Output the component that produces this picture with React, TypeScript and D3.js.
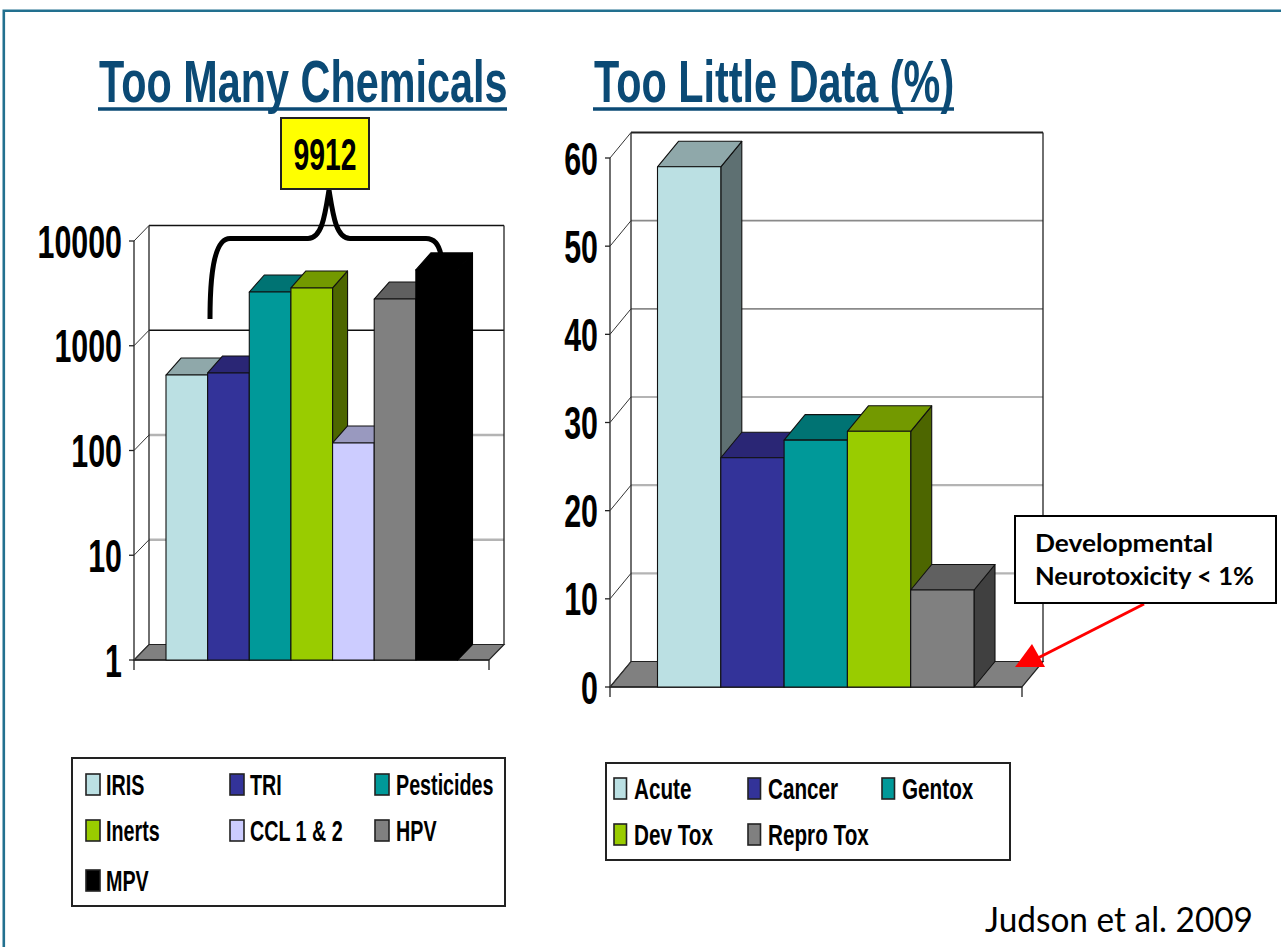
import React from "react";
import * as d3 from "d3";

// Left panel: number of chemicals per inventory (log axis)
const chemicalCategories = ["IRIS", "TRI", "Pesticides", "Inerts", "CCL 1 & 2", "HPV", "MPV"];
const chemicalCounts = [525, 550, 3260, 3560, 118, 2790, 5300];
const chemicalTicks = [1, 10, 100, 1000, 10000];
const chemicalTotal = "9912";

// Right panel: share of chemicals with toxicity data (%)
const dataCategories = ["Acute", "Cancer", "Gentox", "Dev Tox", "Repro Tox"];
const dataPercents = [59, 26, 28, 29, 11];
const dataTicks = [0, 10, 20, 30, 40, 50, 60];

// Front, top and side shades of each bar colour
const shades: Record<string, [string, string, string]> = {
  IRIS: ["#bbe0e3", "#8fa8aa", "#5e7072"],
  TRI: ["#333399", "#2a2675", "#1a1a4d"],
  Pesticides: ["#009999", "#007373", "#004d4d"],
  Inerts: ["#99cc00", "#739900", "#4d6600"],
  "CCL 1 & 2": ["#ccccff", "#9999bf", "#666680"],
  HPV: ["#808080", "#606060", "#404040"],
  MPV: ["#000000", "#000000", "#000000"],
  Acute: ["#bbe0e3", "#8fa8aa", "#5e7072"],
  Cancer: ["#333399", "#2a2675", "#1a1a4d"],
  Gentox: ["#009999", "#007373", "#004d4d"],
  "Dev Tox": ["#99cc00", "#739900", "#4d6600"],
  "Repro Tox": ["#808080", "#606060", "#404040"],
};

const NARROW = "'Liberation Sans', Arial, sans-serif";

// Bold sans text compressed horizontally to a condensed cut
function Narrow(props: {
  x: number; y: number; size: number; sx: number; anchor?: string; fill?: string; children: React.ReactNode;
}) {
  const { x, y, size, sx, anchor = "start", fill = "#000", children } = props;
  return (
    <text
      transform={`translate(${x},${y}) scale(${sx},1)`}
      fontFamily={NARROW}
      fontWeight="bold"
      fontSize={size}
      textAnchor={anchor}
      fill={fill}
    >
      {children}
    </text>
  );
}

type PanelProps = {
  categories: string[];
  values: number[];
  ticks: number[];
  y: (v: number) => number;
  left: number;
  right: number;
  barLeft: number;
  barRight: number;
  dx: number;
  dy: number;
  barDy: number;
  labelX: number;
  labelSize: number;
  labelSx: number;
  gridStyle: (t: number, i: number) => { stroke: string; width: number };
};

// Pseudo-3D column chart: back wall, side wall, floor and extruded bars
function Panel3D(p: PanelProps) {
  const { categories, values, ticks, y, left, right, barLeft, barRight, dx, dy, barDy } = p;
  const x = d3.scaleBand<string>().domain(categories).range([barLeft, barRight]).padding(0);
  const w = x.bandwidth();
  const base = y(ticks[0]);
  const top = y(ticks[ticks.length - 1]);
  const poly = (pts: [number, number][]) => d3.line()(pts) + "Z";
  return (
    <g>
      <path
        d={poly([[left, base], [right, base], [right + dx, base + dy], [left + dx, base + dy]])}
        fill="#808080"
        stroke="#222"
        strokeWidth={1.2}
      />
      {ticks.slice(1).map((t, i) => {
        const g = p.gridStyle(t, i);
        return (
          <line key={t} x1={left + dx} x2={right + dx} y1={y(t) + dy} y2={y(t) + dy} stroke={g.stroke} strokeWidth={g.width} />
        );
      })}
      <line x1={left + dx} x2={left + dx} y1={top + dy} y2={base + dy} stroke="#222" strokeWidth={1.3} />
      <line x1={right + dx} x2={right + dx} y1={top + dy} y2={base + dy} stroke="#222" strokeWidth={1.3} />
      <line x1={left} x2={left} y1={top} y2={base + 10} stroke="#222" strokeWidth={1.3} />
      <line x1={left} x2={right} y1={base} y2={base} stroke="#222" strokeWidth={1.3} />
      <line x1={right} x2={right} y1={base} y2={base + 10} stroke="#222" strokeWidth={1.3} />
      {ticks.map((t) => (
        <g key={t}>
          <line x1={left - 5} x2={left} y1={y(t)} y2={y(t)} stroke="#222" strokeWidth={1.3} />
          <line x1={left} x2={left + dx} y1={y(t)} y2={y(t) + dy} stroke="#333" strokeWidth={1} />
          <Narrow x={p.labelX} y={y(t) + p.labelSize * 0.36} size={p.labelSize} sx={p.labelSx} anchor="end">
            {t}
          </Narrow>
        </g>
      ))}
      {categories.map((c, i) => {
        const x0 = x(c) as number;
        const yt = y(values[i]);
        const [front, topFace, side] = shades[c];
        return (
          <g key={c} stroke={c === "MPV" ? "#000" : "#111"} strokeWidth={1.1} strokeLinejoin="round">
            <path d={poly([[x0 + w, yt], [x0 + w + dx, yt + barDy], [x0 + w + dx, base + dy], [x0 + w, base]])} fill={side} />
            <path d={poly([[x0, yt], [x0 + dx, yt + barDy], [x0 + w + dx, yt + barDy], [x0 + w, yt]])} fill={topFace} />
            <rect x={x0} y={yt} width={w} height={base - yt} fill={front} />
          </g>
        );
      })}
    </g>
  );
}

function Legend(props: {
  box: [number, number, number, number];
  items: string[];
  cols: number[];
  textCols: number[];
  rows: number[];
  swatchW: number;
  swatchH: number;
  size: number;
  sx: number;
}) {
  const { box, items, cols, textCols, rows, swatchW, swatchH, size, sx } = props;
  return (
    <g>
      <rect x={box[0]} y={box[1]} width={box[2] - box[0]} height={box[3] - box[1]} fill="#fff" stroke="#222" strokeWidth={2} />
      {items.map((c, i) => {
        const col = i % cols.length;
        const row = Math.floor(i / cols.length);
        return (
          <g key={c}>
            <rect x={cols[col]} y={rows[row] - swatchH} width={swatchW} height={swatchH} fill={shades[c][0]} stroke="#222" strokeWidth={1.6} />
            <Narrow x={textCols[col]} y={rows[row]} size={size} sx={sx}>
              {c}
            </Narrow>
          </g>
        );
      })}
    </g>
  );
}

export default function App() {
  const yLog = d3.scaleLog().domain([1, 10000]).range([660, 241]);
  const yLin = d3.scaleLinear().domain([0, 60]).range([687, 158]);
  const title = "#0b4a75";
  return (
    <svg
      width={1281}
      height={947}
      viewBox="0 0 1281 947"
      style={{ position: "absolute", left: 0, top: 0, background: "#fff" }}
    >
      <path d="M3.8,947V10.7H1281" fill="none" stroke="#22708f" strokeWidth={2.6} />

      <Narrow x={99} y={102} size={60} sx={0.69} fill={title}>Too Many Chemicals</Narrow>
      <line x1={98} x2={507} y1={109} y2={109} stroke={title} strokeWidth={3.5} />
      <Narrow x={594} y={102} size={60} sx={0.69} fill={title}>Too Little Data (%)</Narrow>
      <line x1={593} x2={954} y1={109} y2={109} stroke={title} strokeWidth={3.5} />

      <Panel3D
        categories={chemicalCategories}
        values={chemicalCounts}
        ticks={chemicalTicks}
        y={yLog}
        left={134}
        right={489}
        barLeft={166}
        barRight={457.5}
        dx={15}
        dy={-15.5}
        barDy={-17}
        labelX={122}
        labelSize={46}
        labelSx={0.66}
        gridStyle={(t) => (t >= 1000 ? { stroke: "#111", width: 1.4 } : { stroke: "#b4b4b4", width: 2.4 })}
      />
      <Panel3D
        categories={dataCategories}
        values={dataPercents}
        ticks={dataTicks}
        y={yLin}
        left={610}
        right={1022}
        barLeft={657.5}
        barRight={974}
        dx={21}
        dy={-25.5}
        barDy={-25.5}
        labelX={598}
        labelSize={46}
        labelSx={0.66}
        gridStyle={(t) =>
          t === 60 ? { stroke: "#222", width: 2 } : t >= 40 ? { stroke: "#8a8a8a", width: 1.8 } : { stroke: "#b4b4b4", width: 2.2 }
        }
      />

      {/* Brace grouping the left-hand inventories under their total */}
      <path
        d="M210,319C210,280 213,238.5 230,238.5H308C322,238.5 325,215 329,190C333,215 336,238.5 350,238.5H426C435,238.5 439,245 441,255"
        fill="none"
        stroke="#000"
        strokeWidth={5}
      />
      <rect x={281} y={118} width={88} height={71} fill="#ffff00" stroke="#222" strokeWidth={2} />
      <Narrow x={325} y={170} size={45} sx={0.63} anchor="middle">{chemicalTotal}</Narrow>

      <Legend
        box={[72, 758, 505, 906]}
        items={chemicalCategories}
        cols={[86, 230, 375]}
        textCols={[106, 250, 396]}
        rows={[795, 841, 891]}
        swatchW={14}
        swatchH={21}
        size={29}
        sx={0.68}
      />
      <Legend
        box={[606, 763, 1010, 860]}
        items={dataCategories}
        cols={[614, 748, 882]}
        textCols={[634, 768, 902]}
        rows={[799, 845]}
        swatchW={12.5}
        swatchH={21}
        size={30}
        sx={0.69}
      />

      {/* Callout for the missing developmental neurotoxicity bar */}
      <line x1={1144} y1={604} x2={1036} y2={659} stroke="#f00" strokeWidth={3} />
      <path d="M1032,644L1015,667H1045Z" fill="#f00" />
      <rect x={1015} y={516} width={261} height={87} fill="#fff" stroke="#000" strokeWidth={2} />
      <text x={1035} y={552} fontFamily="Lato, sans-serif" fontWeight="bold" fontSize={25} textLength={178} lengthAdjust="spacingAndGlyphs">Developmental</text>
      <text x={1035} y={585} fontFamily="Lato, sans-serif" fontWeight="bold" fontSize={25} textLength={219} lengthAdjust="spacingAndGlyphs">Neurotoxicity &lt; 1%</text>

      <text x={985} y={932} fontFamily="Lato, sans-serif" fontSize={35} textLength={268} lengthAdjust="spacingAndGlyphs">Judson et al. 2009</text>
    </svg>
  );
}
